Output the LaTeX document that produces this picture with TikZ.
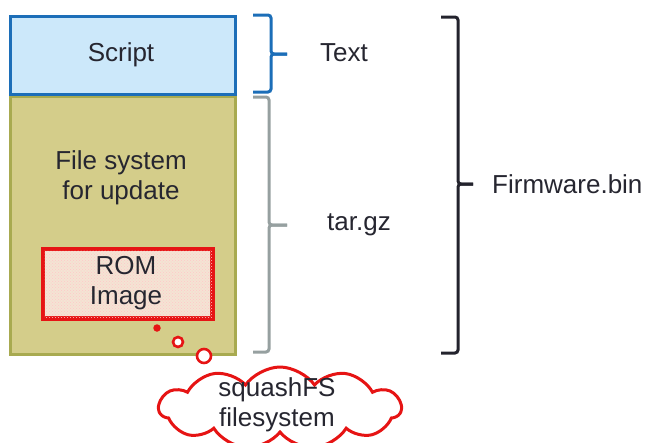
\documentclass[tikz,border=0pt]{standalone}
\usepackage{fontspec}
\setmainfont{Liberation Sans}
\usetikzlibrary{shapes.symbols,patterns}
\definecolor{txt}{RGB}{38,38,48}
\definecolor{scriptfill}{RGB}{204,232,250}
\definecolor{scriptline}{RGB}{28,110,184}
\definecolor{fsfill}{RGB}{212,205,138}
\definecolor{fsline}{RGB}{168,170,80}
\definecolor{romfill}{RGB}{244,228,212}
\definecolor{redline}{RGB}{230,20,20}
\definecolor{graybrace}{RGB}{150,160,160}
\definecolor{blackbrace}{RGB}{35,35,45}
\tikzset{
  lbl/.style={font=\fontsize{26}{30}\selectfont, text=txt, align=center, inner sep=0pt},
  bracket/.style={line width=3pt, rounded corners=3pt},
  bubble/.style={draw=redline, line width=2.6pt, fill=white, circle, inner sep=0pt},
}
\begin{document}
\begin{tikzpicture}[x=1pt,y=-1pt]
\useasboundingbox (0,0) rectangle (645,442);
% boxes
\node[draw=fsline, fill=fsfill, line width=3pt, minimum width=225, minimum height=258, anchor=north west, inner sep=0pt] (fs) at (9,95) {};
\node[draw=scriptline, fill=scriptfill, line width=3pt, minimum width=225, minimum height=78, anchor=north west, inner sep=0pt] (script) at (9,15) {};
\node[lbl] (scriptlbl) at (121,55) {Script};
\node[lbl] (fslbl) at (121,178) {File system\\for update};
\node[draw=redline, fill=romfill, line width=3pt, minimum width=168, minimum height=68, anchor=north west, inner sep=0pt] (rom) at (42,248) {};
\fill[pattern=crosshatch dots, pattern color=red!22] (rom.south west) rectangle (rom.north east);
\draw[redline, line width=3pt] (rom.south west) rectangle (rom.north east);
\node[lbl] (romlbl) at (126,283) {ROM\\Image};
% thought bubbles
\node[circle, fill=redline, minimum size=7.5, inner sep=0pt] (b1) at (157,328) {};
\node[bubble, minimum size=10] (b2) at (178,342) {};
\node[bubble, minimum size=14] (b3) at (204,356) {};
% cloud
\node[cloud, cloud puffs=11, cloud puff arc=110, aspect=3.4, draw=redline, line width=3pt, fill=white, minimum width=242, minimum height=82, inner sep=0pt] (cloud) at (280,408) {};
\node[lbl] (cloudlbl) at (277,405) {squashFS\\filesystem};
% braces
\coordinate (bt) at (287,54);
\draw[bracket, scriptline] (253,15) -| (271,54) -- (bt);
\draw[bracket, scriptline] (bt) -- (271,54) |- (253,92);
\node[lbl, anchor=west] (textlbl) at (320,53) {Text};
\coordinate (gt) at (287,225);
\draw[bracket, graybrace] (253,97) -| (269,225) -- (gt);
\draw[bracket, graybrace] (gt) -- (269,225) |- (253,352);
\node[lbl, anchor=west] (targzlbl) at (327,225) {tar.gz};
\coordinate (kt) at (473,184);
\draw[bracket, blackbrace] (441,17) -| (458,184) -- (kt);
\draw[bracket, blackbrace] (kt) -- (458,184) |- (441,353);
\node[lbl, anchor=west] (fwlbl) at (492,184) {Firmware.bin};
\end{tikzpicture}
\end{document}
